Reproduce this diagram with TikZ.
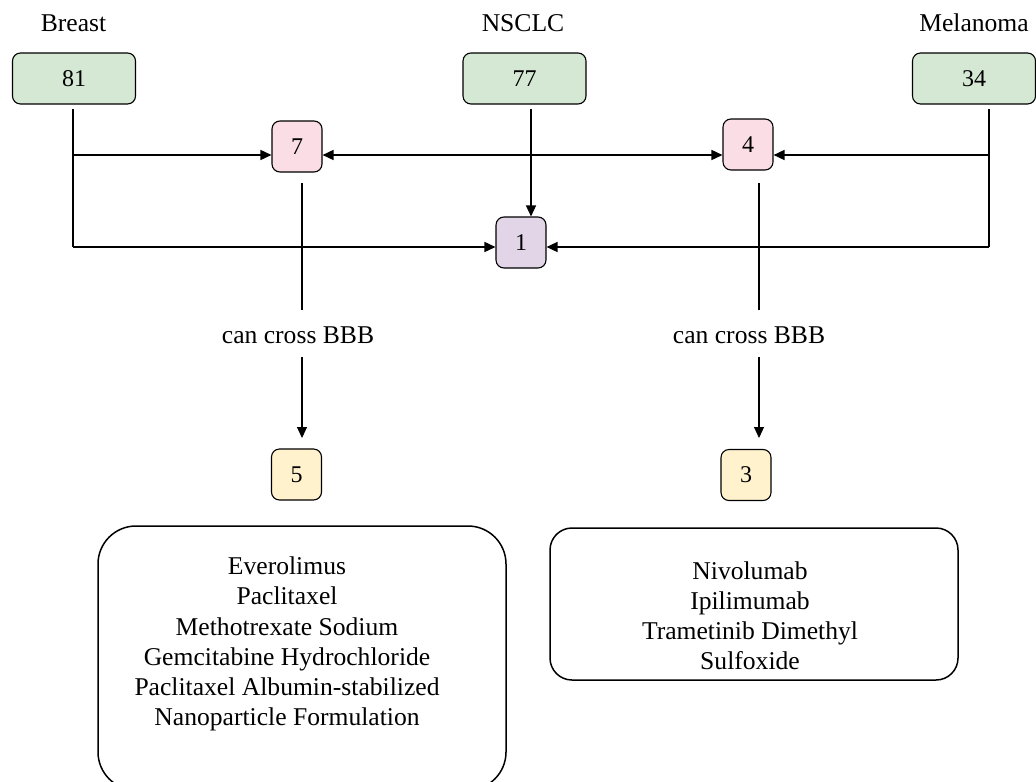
\documentclass[tikz,border=0pt]{standalone}
\usepackage{fontspec}
\setmainfont{Liberation Serif}
\usetikzlibrary{arrows.meta}
\definecolor{gfill}{HTML}{D5E8D4}
\definecolor{pfill}{HTML}{FBDEE5}
\definecolor{vfill}{HTML}{E1D5E7}
\definecolor{yfill}{HTML}{FFF2CC}
\tikzset{
  numbox/.style={draw=black, line width=0.55pt, rounded corners=4pt, inner sep=0pt,
    font=\fontsize{12}{14}\selectfont},
  srcbox/.style={numbox, fill=gfill, minimum width=61.5pt, minimum height=25.5pt},
  smallbox/.style={numbox, minimum width=25pt, minimum height=25.5pt},
  listbox/.style={draw=black, line width=0.75pt, inner sep=0pt},
  lbl/.style={font=\fontsize{12.8}{15}\selectfont, inner sep=0pt},
  listtxt/.style={font=\fontsize{12.8}{15.1}\selectfont, align=center, inner sep=0pt},
  conn/.style={line width=0.75pt},
  thin/.style={line width=0.55pt},
  arr/.style={-{Triangle[length=5.5pt,width=5pt]}},
}
\begin{document}
\begin{tikzpicture}[x=0.5pt,y=-0.5pt]
\useasboundingbox (0,0) rectangle (1036,781);

% titles
\node[lbl, anchor=base] (tBreast) at (73.5,32) {Breast};
\node[lbl, anchor=base] (tNSCLC) at (523,32) {NSCLC};
\node[lbl, anchor=base] (tMel) at (974,32) {Melanoma};

% source boxes
\node[srcbox] (b81) at (74,78.5) {81};
\node[srcbox] (b77) at (524.5,78.5) {77};
\node[srcbox] (b34) at (974,78.5) {34};

% intersections
\node[smallbox, fill=pfill] (b7) at (297,146.5) {7};
\node[smallbox, fill=pfill] (b4) at (748,144.5) {4};
\node[smallbox, fill=vfill] (b1) at (521,242.5) {1};

% BBB boxes
\node[smallbox, fill=yfill] (b5) at (296.5,474.5) {5};
\node[smallbox, fill=yfill] (b3) at (746,475) {3};

% list boxes
\node[listbox, rounded corners=19pt, minimum width=204pt, minimum height=132pt] (L) at (302,658) {};
\node[listbox, rounded corners=11pt, minimum width=204pt, minimum height=76pt] (R) at (754,604) {};
\node[listtxt] (Ltxt) at (287,644) {Everolimus\\Paclitaxel\\Methotrexate Sodium\\Gemcitabine Hydrochloride\\Paclitaxel Albumin-stabilized\\Nanoparticle Formulation};
\node[listtxt, font=\fontsize{12.8}{15}\selectfont] (Rtxt) at (750,616) {Nivolumab\\Ipilimumab\\Trametinib Dimethyl\\Sulfoxide};

% labels
\node[lbl, anchor=base] (c1) at (298,343) {can cross BBB};
\node[lbl, anchor=base] (c2) at (749,343) {can cross BBB};

% junction coordinates
\coordinate (a81) at (73,109);
\coordinate (j81a) at (73,155);
\coordinate (j81b) at (73,247);
\coordinate (a34) at (989,109);
\coordinate (j34a) at (989,155);
\coordinate (j34b) at (989,247);
\coordinate (a77) at (531,109);
\coordinate (a7) at (302,183);
\coordinate (m7a) at (302,310);
\coordinate (m7b) at (302,357);
\coordinate (t5) at (302,438);
\coordinate (a4) at (759,183);
\coordinate (m4a) at (759,310);
\coordinate (m4b) at (759,357);
\coordinate (t3) at (759,438);

% connectors
\draw[conn] (a81) -- (j81b);
\draw[conn, arr] (j81a) -- (b7.west |- j81a);
\draw[conn, arr] (j81b) -- (b1.west |- j81b);
\draw[conn] (a34) -- (j34b);
\draw[conn, arr] (j34a) -- (b4.east |- j34a);
\draw[conn, arr] (j34b) -- (b1.east |- j34b);
\draw[conn, {Triangle[length=5.5pt,width=5pt]}-{Triangle[length=5.5pt,width=5pt]}] (b7.east |- j81a) -- (b4.west |- j81a);
\draw[conn, arr] (a77) -- (a77 |- b1.north);
\draw[thin] (a7) -- (m7a);
\draw[thin, arr] (m7b) -- (t5);
\draw[thin] (a4) -- (m4a);
\draw[thin, arr] (m4b) -- (t3);
\end{tikzpicture}
\end{document}
